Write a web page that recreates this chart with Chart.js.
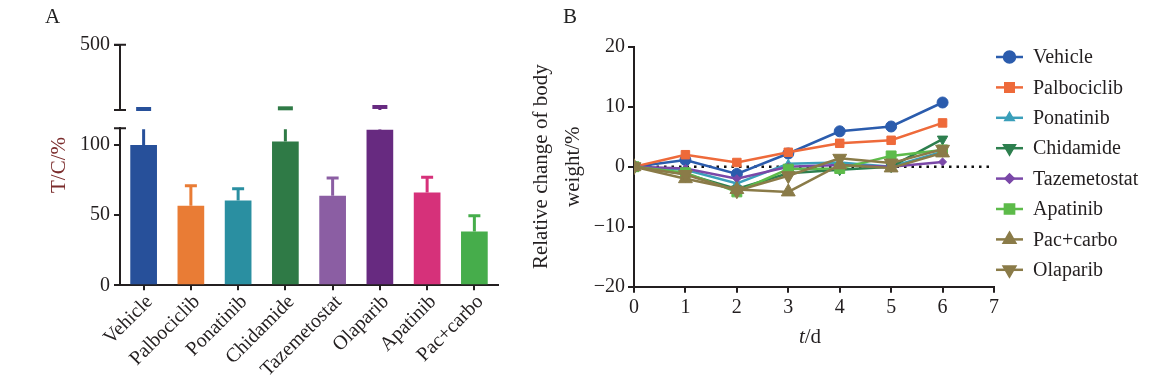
<!DOCTYPE html>
<html>
<head>
<meta charset="utf-8">
<script src="https://cdn.jsdelivr.net/npm/chart.js@4.4.1/dist/chart.umd.min.js"></script>
<style>
html, body { margin: 0; padding: 0; background: #fff; }
#wrap { position: relative; width: 1174px; height: 388px; overflow: hidden; }
.panel { position: absolute; top: 0; }
#boxA { left: 0; }
#boxB { left: 500px; }
.tag { position: absolute; top: 4px; font: 21px 'Liberation Serif', serif; color: #222; }
</style>
</head>
<body>
<div id="wrap">
  <div class="panel" id="boxA"><canvas id="chartA" width="520" height="388"></canvas></div>
  <div class="panel" id="boxB"><canvas id="chartB" width="674" height="388"></canvas></div>
  <div class="tag" style="left:45px">A</div>
  <div class="tag" style="left:563px">B</div>
</div>
<script>
// ---- panel A data: T/C ratio per treatment ----
const drugs = ['Vehicle', 'Palbociclib', 'Ponatinib', 'Chidamide', 'Tazemetostat', 'Olaparib', 'Apatinib', 'Pac+carbo'];
const tcValues = [100, 56.7, 60.5, 102.5, 63.9, 111, 66.2, 38.4];
const tcErrors = [18, 14.3, 8.4, 19.5, 12.6, 19, 10.8, 11.2];
const barColors = ['#27509a', '#e97c35', '#2a8fa1', '#2f7a46', '#8b5ea3', '#672a80', '#d6317a', '#46ad4b'];
const lowTicks = [0, 50, 100];
const highTicks = [500];

// ---- panel B data: relative body weight change (%) by day ----
const days = [0, 1, 2, 3, 4, 5, 6];
const vehicleBW = [0, 1.1, -1.2, 2.2, 5.9, 6.7, 10.7];
const palbociclibBW = [0, 2.0, 0.7, 2.4, 3.9, 4.4, 7.3];
const ponatinibBW = [0, -0.5, -2.8, 0.5, 0.7, 0, 2.5];
const chidamideBW = [0, -1.2, -3.7, -1.1, -0.5, 0, 4.6];
const tazemetostatBW = [0, -0.3, -2.0, 0, 0.3, 0, 0.8];
const apatinibBW = [0, -1.0, -4.2, -0.4, -0.3, 1.8, 2.8];
const pacCarboBW = [0, -2.0, -3.8, -4.2, 0.3, -0.2, 2.3];
const olaparibBW = [0, -1.3, -4.0, -1.5, 1.4, 0.6, 2.9];
const dayTicks = [0, 1, 2, 3, 4, 5, 6, 7];
const bwTicks = [-20, -10, 0, 10, 20];

const ink = '#231f20';
const serif = "'Liberation Serif', 'Times New Roman', serif";
Chart.defaults.font.family = serif;
Chart.defaults.font.size = 20;
Chart.defaults.color = ink;

// -------------------------------------------------------------------
// A: bar chart with broken y axis (two stacked scales + empty gap)
// -------------------------------------------------------------------
const axisLine = { display: true, color: ink, width: 2 };
const tickOnly = { display: true, drawOnChartArea: false, drawTicks: true, tickLength: 6, color: ink, lineWidth: 2 };

const errorBars = {
    id: 'errorBars',
    afterDatasetsDraw(chart) {
        const { ctx, chartArea } = chart;
        const yLow = chart.scales.yLow, yHigh = chart.scales.yHigh;
        const meta = chart.getDatasetMeta(0);
        ctx.save();
        meta.data.forEach((bar, i) => {
            const top = tcValues[i] + tcErrors[i];
            ctx.strokeStyle = barColors[i];
            ctx.lineWidth = 3;
            ctx.beginPath();
            let capY, half = 6;
            ctx.moveTo(bar.x, bar.y);
            if (top <= yLow.max) {
                capY = yLow.getPixelForValue(top);
                ctx.lineTo(bar.x, capY);
            } else {
                ctx.lineTo(bar.x, yLow.top + 1);
                capY = yHigh.getPixelForValue(top);
                ctx.moveTo(bar.x, yHigh.bottom);
                ctx.lineTo(bar.x, capY);
                ctx.stroke();
                ctx.beginPath();
                ctx.lineWidth = 4;
                half = 7.5;
            }
            ctx.moveTo(bar.x - half, capY);
            ctx.lineTo(bar.x + half, capY);
            ctx.stroke();
        });
        // end caps of the two axis pieces
        ctx.strokeStyle = ink;
        ctx.lineWidth = 2;
        ctx.beginPath();
        ctx.moveTo(chartArea.left - 6, yLow.top); ctx.lineTo(chartArea.left + 6, yLow.top);
        ctx.moveTo(chartArea.left - 6, yHigh.bottom); ctx.lineTo(chartArea.left + 6, yHigh.bottom);
        ctx.moveTo(chartArea.left - 6, yHigh.top); ctx.lineTo(chartArea.left + 6, yHigh.top);
        ctx.stroke();
        // y title centred on the whole axis
        ctx.translate(59, (chartArea.top + chartArea.bottom) / 2);
        ctx.rotate(-Math.PI / 2);
        ctx.fillStyle = '#7b2c2c';
        ctx.font = '21px ' + serif;
        ctx.textAlign = 'center';
        ctx.textBaseline = 'middle';
        ctx.fillText('T/C/%', 0, 0);
        ctx.restore();
    }
};

new Chart(document.getElementById('chartA'), {
    type: 'bar',
    data: {
        labels: drugs,
        datasets: [{
            data: tcValues,
            backgroundColor: barColors,
            borderWidth: 0,
            barPercentage: 0.565,
            categoryPercentage: 1,
            yAxisID: 'yLow'
        }]
    },
    options: {
        responsive: false,
        animation: false,
        layout: { padding: { left: 0, right: 22, top: 44.7, bottom: 0 } },
        plugins: { legend: { display: false }, tooltip: { enabled: false } },
        scales: {
            x: {
                grid: { display: true, offset: false, drawOnChartArea: false, tickLength: 5, color: ink, lineWidth: 2 },
                border: axisLine,
                ticks: { minRotation: 45, maxRotation: 45, padding: 0, labelOffset: 6, autoSkip: false },
                afterFit(s) { s.height = 388 - 285.3; }
            },
            yLow: {
                type: 'linear', position: 'left', stack: 'tc', stackWeight: 157,
                min: 0, max: 112,
                grid: tickOnly, border: axisLine,
                ticks: { padding: 4 },
                afterBuildTicks(s) { s.ticks = lowTicks.map(v => ({ value: v })); },
                afterFit(s) { s.width = 120; }
            },
            yGap: {
                type: 'linear', position: 'left', stack: 'tc', stackWeight: 18.3,
                min: 0, max: 1,
                grid: { display: false }, border: { display: false },
                ticks: { display: false },
                afterFit(s) { s.width = 120; }
            },
            yHigh: {
                type: 'linear', position: 'left', stack: 'tc', stackWeight: 65.3,
                min: 112, max: 500,
                grid: tickOnly, border: axisLine,
                ticks: { padding: 4 },
                afterBuildTicks(s) { s.ticks = highTicks.map(v => ({ value: v })); },
                afterFit(s) { s.width = 120; }
            }
        }
    },
    plugins: [errorBars]
});

// -------------------------------------------------------------------
// B: body weight line chart
// -------------------------------------------------------------------
const series = [
    { label: 'Vehicle', values: vehicleBW, color: '#2b5cad', style: 'circle', r: 5.5, rot: 0 },
    { label: 'Palbociclib', values: palbociclibBW, color: '#ee6a3a', style: 'rect', r: 6, rot: 0 },
    { label: 'Ponatinib', values: ponatinibBW, color: '#3a9fba', style: 'triangle', r: 4.5, rot: 0 },
    { label: 'Chidamide', values: chidamideBW, color: '#2d7f4e', style: 'triangle', r: 6, rot: 180 },
    { label: 'Tazemetostat', values: tazemetostatBW, color: '#7a48a8', style: 'rectRot', r: 4, rot: 0 },
    { label: 'Apatinib', values: apatinibBW, color: '#5dbb4a', style: 'rect', r: 7, rot: 0 },
    { label: 'Pac+carbo', values: pacCarboBW, color: '#8a7b48', style: 'triangle', r: 8, rot: 0 },
    { label: 'Olaparib', values: olaparibBW, color: '#8a7b48', style: 'triangle', r: 8, rot: 180 }
];

const extrasB = {
    id: 'extrasB',
    beforeDatasetsDraw(chart) {
        // dotted zero line
        const { ctx } = chart;
        const x = chart.scales.x, y = chart.scales.y;
        ctx.save();
        ctx.strokeStyle = '#111';
        ctx.lineWidth = 2.5;
        ctx.setLineDash([2.5, 5]);
        ctx.beginPath();
        ctx.moveTo(x.getPixelForValue(0), y.getPixelForValue(0));
        ctx.lineTo(x.getPixelForValue(7), y.getPixelForValue(0));
        ctx.stroke();
        ctx.restore();
    },
    afterDraw(chart) {
        const { ctx, chartArea } = chart;
        ctx.save();
        ctx.font = '21px ' + serif;
        ctx.fillStyle = ink;
        // y title, two lines
        const midY = (chartArea.top + chartArea.bottom) / 2;
        ctx.textAlign = 'center';
        ctx.textBaseline = 'middle';
        [['Relative change of body', 41], ['weight/%', 73]].forEach(([t, cx]) => {
            ctx.save();
            ctx.translate(cx, midY);
            ctx.rotate(-Math.PI / 2);
            ctx.fillText(t, 0, 0);
            ctx.restore();
        });
        // x title: italic t + /d
        const italic = 'italic 21px ' + serif;
        const plain = '21px ' + serif;
        ctx.font = italic; const wt = ctx.measureText('t').width;
        ctx.font = plain; const wd = ctx.measureText('/d').width;
        const cx = (chartArea.left + chartArea.right) / 2 - 4;
        const x0 = cx - (wt + wd) / 2;
        ctx.textAlign = 'left';
        ctx.font = italic; ctx.fillText('t', x0, 337);
        ctx.font = plain; ctx.fillText('/d', x0 + wt, 337);
        // legend: line + marker + label
        ctx.font = '20px ' + serif;
        series.forEach((s, i) => {
            const ly = 57 + i * 30.4;
            ctx.strokeStyle = s.color;
            ctx.fillStyle = s.color;
            ctx.lineWidth = 2.5;
            ctx.beginPath();
            ctx.moveTo(496, ly); ctx.lineTo(523, ly);
            ctx.stroke();
            Chart.helpers.drawPoint(ctx, { pointStyle: s.style, radius: Math.min(s.r, 6.5), rotation: s.rot, borderWidth: 1 }, 509.5, ly);
            ctx.fillStyle = ink;
            ctx.textBaseline = 'middle';
            ctx.fillText(s.label, 533, ly + 1);
        });
        ctx.restore();
    }
};

new Chart(document.getElementById('chartB'), {
    type: 'line',
    data: {
        datasets: series.map((s, i) => ({
            label: s.label,
            data: days.map((d, k) => ({ x: d, y: s.values[k] })),
            borderColor: s.color,
            backgroundColor: s.color,
            borderWidth: 2.5,
            pointStyle: s.style,
            pointRadius: s.r,
            pointRotation: s.rot,
            pointBorderWidth: 1,
            tension: 0,
            order: series.length - i
        }))
    },
    options: {
        responsive: false,
        animation: false,
        layout: { padding: { left: 0, right: 180, top: 46.7, bottom: 0 } },
        plugins: { legend: { display: false }, tooltip: { enabled: false } },
        scales: {
            x: {
                type: 'linear', min: 0, max: 7,
                grid: tickOnly, border: axisLine,
                ticks: { padding: 3 },
                afterBuildTicks(s) { s.ticks = dayTicks.map(v => ({ value: v })); },
                afterFit(s) { s.height = 388 - 286.7; }
            },
            y: {
                min: -20, max: 20,
                grid: tickOnly, border: axisLine,
                ticks: { padding: 3, callback: v => String(v).replace('-', '\u2212') },
                afterBuildTicks(s) { s.ticks = bwTicks.map(v => ({ value: v })); },
                afterFit(s) { s.width = 134; }
            }
        }
    },
    plugins: [extrasB]
});
</script>
</body>
</html>
